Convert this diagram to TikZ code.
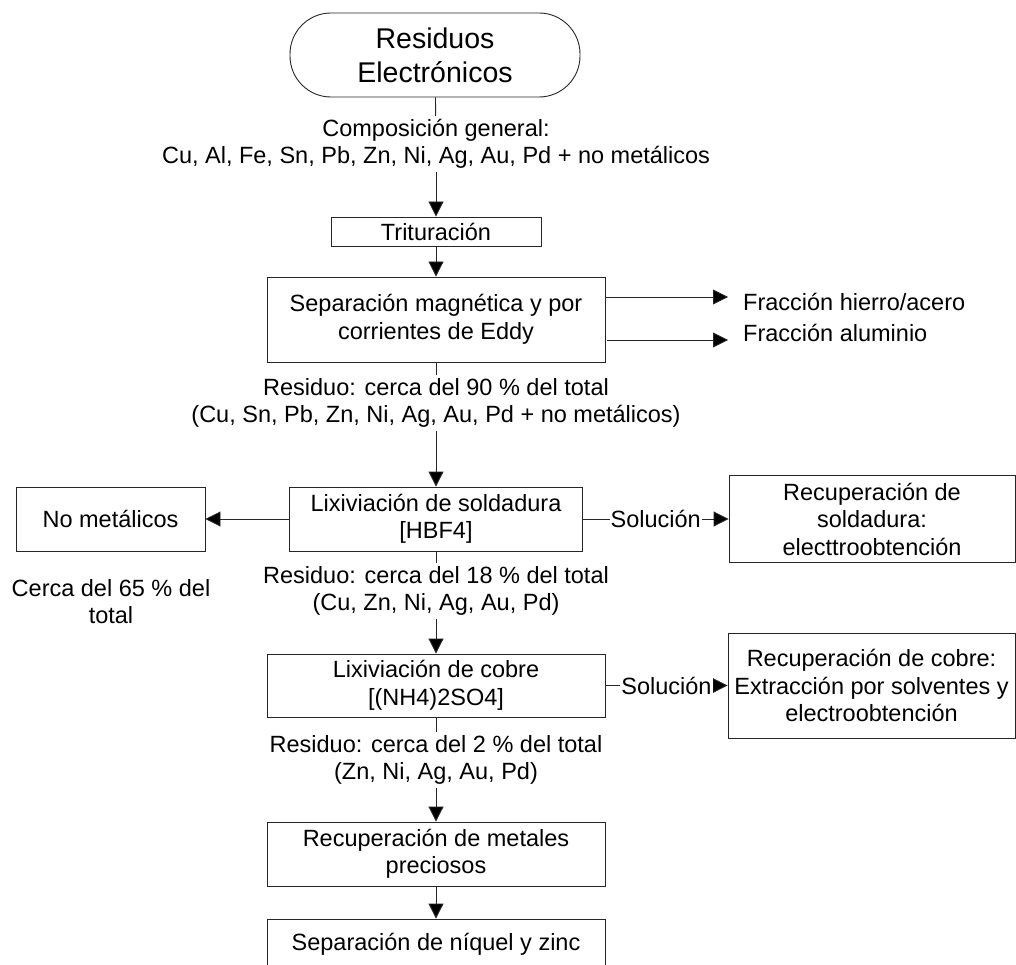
\documentclass[tikz,border=0pt]{standalone}
\usepackage{fontspec}
\setmainfont{Liberation Sans}
\usetikzlibrary{arrows.meta}
\definecolor{linec}{gray}{0.15}
\begin{document}
\begin{tikzpicture}[x=1pt,y=-1pt,
  every node/.style={font=\fontsize{23.5}{27.5}\selectfont, align=center, inner sep=0pt},
  procbox/.style={draw=linec, line width=0.9pt, fill=white},
  termbox/.style={draw=linec, line width=0.9pt, rounded corners=41pt, font=\fontsize{28.5}{34}\selectfont},
  lab/.style={inner sep=3pt},
  conn/.style={draw=linec, line width=0.9pt},
  arr/.style={conn, -{Triangle[length=15pt,width=15pt,fill=black]}}
]
\useasboundingbox (0,0) rectangle (1016,965);
\clip (0,0) rectangle (1016,965);

\node[termbox, minimum width=290pt, minimum height=84pt] (term) at (435,55) {Residuos\\Electrónicos};
\node[lab] (c1) at (436,144) {Composición general:\\Cu, Al, Fe, Sn, Pb, Zn, Ni, Ag, Au, Pd + no metálicos};
\node[procbox, minimum width=210pt, minimum height=29pt] (trit) at (436,231.5) {Trituración};
\node[procbox, minimum width=338pt, minimum height=85pt] (sep) at (436,319.5) {Separación magnética y por\\corrientes de Eddy};
\node[lab, anchor=west, inner sep=0pt] (fh) at (743,302) {Fracción hierro/acero};
\node[lab, anchor=west, inner sep=0pt] (fal) at (743,333) {Fracción aluminio};
\coordinate (fhA) at (728,297);
\coordinate (falA) at (728,340);
\node[lab] (r1) at (436,403) {Residuo: cerca del 90 \% del total\\(Cu, Sn, Pb, Zn, Ni, Ag, Au, Pd + no metálicos)};
\node[procbox, minimum width=293pt, minimum height=64pt] (lixs) at (436,519) {Lixiviación de soldadura\\{[HBF4]}};
\node[procbox, minimum width=189pt, minimum height=64pt] (nomet) at (110.5,519) {No metálicos};
\node[lab] (c65) at (111,601.5) {Cerca del 65 \% del\\total};
\node[procbox, minimum width=286pt, minimum height=87pt] (recsol) at (872,519) {Recuperación de\\soldadura:\\electtroobtención};
\node[lab] (r2) at (436,591) {Residuo: cerca del 18 \% del total\\(Cu, Zn, Ni, Ag, Au, Pd)};
\node[procbox, minimum width=338pt, minimum height=63pt] (lixc) at (436,685.5) {Lixiviación de cobre\\{[(NH4)2SO4]}};
\node[procbox, minimum width=287pt, minimum height=105pt] (reccu) at (871.5,685.5) {Recuperación de cobre:\\Extracción por solventes y\\electroobtención};
\node[lab] (r3) at (436,760) {Residuo: cerca del 2 \% del total\\(Zn, Ni, Ag, Au, Pd)};
\node[procbox, minimum width=338pt, minimum height=64pt] (recmp) at (436,854) {Recuperación de metales\\preciosos};
\node[procbox, minimum width=338pt, minimum height=50pt] (sepnz) at (436,944) {Separación de níquel y zinc};

\draw[conn] (term) -- (c1);
\draw[arr] (c1) -- (trit);
\draw[arr] (trit) -- (sep);
\draw[arr] (sep.east |- fhA) -- (fhA);
\draw[arr] ([xshift=2pt]sep.east |- falA) -- (falA);
\draw[conn] (sep) -- (r1);
\draw[arr] (r1) -- (lixs);
\draw[arr] (lixs) -- (nomet);
\draw[arr] (lixs) -- node[fill=white, inner sep=1pt]{Solución} (recsol);
\draw[conn] (lixs) -- (r2);
\draw[arr] (r2) -- (lixc);
\draw[arr] (lixc) -- node[fill=white, inner sep=1pt]{Solución} (reccu);
\draw[conn] (lixc) -- (r3);
\draw[arr] (r3) -- (recmp);
\draw[arr] (recmp) -- (sepnz);
\end{tikzpicture}
\end{document}
